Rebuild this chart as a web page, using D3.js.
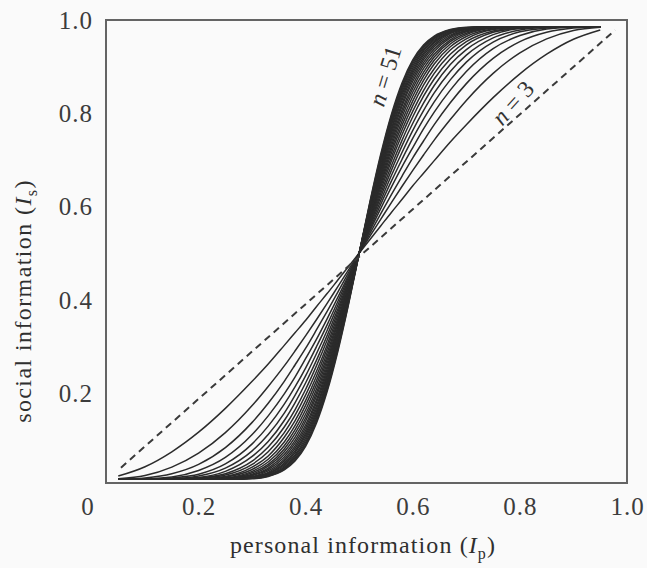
<!DOCTYPE html>
<html><head><meta charset="utf-8">
<script src="https://cdn.jsdelivr.net/npm/d3@7"></script>
<style>
html,body{margin:0;padding:0;background:#fafafa;}
svg{display:block;}
</style></head>
<body>
<svg id="chart" width="647" height="568"></svg>
<script>
// ---- data ----
const groupSizes = [3,5,7,9,11,13,15,17,19,21,23,25,27,29,31,33,35,37,39,41,43,45,47,49,51];
const personalInfo = [0.05,0.10,0.15,0.20,0.25,0.30,0.33,0.36,0.38,0.40,0.42,0.44,0.46,0.48,0.50,
                      0.52,0.54,0.56,0.58,0.60,0.62,0.64,0.67,0.70,0.75,0.80,0.85,0.90,0.95];
const socialInfo = [
 [.022,.042,.074,.116,.167,.225,.262,.302,.329,.356,.385,.413,.442,.471,.5,.529,.558,.587,.615,.644,.671,.698,.738,.775,.833,.884,.926,.958,.978],
 [.016,.023,.041,.071,.115,.173,.214,.258,.290,.323,.357,.392,.428,.464,.5,.536,.572,.608,.643,.677,.710,.742,.786,.827,.885,.929,.959,.977,.984],
 [.015,.018,.027,.047,.083,.137,.178,.225,.260,.296,.335,.375,.416,.458,.5,.542,.584,.625,.665,.704,.740,.775,.822,.863,.917,.953,.973,.982,.985],
 [.015,.016,.020,.034,.062,.111,.151,.198,.234,.274,.315,.359,.405,.452,.5,.548,.595,.641,.685,.726,.766,.802,.849,.889,.938,.966,.980,.984,.985],
 [.015,.015,.018,.026,.048,.091,.129,.176,.213,.254,.299,.346,.396,.448,.5,.552,.604,.654,.701,.746,.787,.824,.871,.909,.952,.974,.982,.985,.985],
 [.015,.015,.016,.022,.039,.076,.111,.157,.195,.237,.284,.334,.388,.443,.5,.557,.612,.666,.716,.763,.805,.843,.889,.924,.961,.978,.984,.985,.985],
 [.015,.015,.016,.019,.032,.064,.096,.141,.179,.222,.270,.323,.380,.439,.5,.561,.620,.677,.730,.778,.821,.859,.904,.936,.968,.981,.984,.985,.985],
 [.015,.015,.015,.018,.027,.054,.084,.127,.164,.208,.258,.313,.373,.436,.5,.564,.627,.687,.742,.792,.836,.873,.916,.946,.973,.982,.985,.985,.985],
 [.015,.015,.015,.017,.024,.047,.074,.115,.152,.196,.246,.303,.366,.432,.5,.568,.634,.697,.754,.804,.848,.885,.926,.953,.976,.983,.985,.985,.985],
 [.015,.015,.015,.016,.021,.041,.065,.105,.140,.184,.236,.295,.359,.429,.5,.571,.641,.705,.764,.816,.860,.895,.935,.959,.979,.984,.985,.985,.985],
 [.015,.015,.015,.016,.020,.036,.058,.095,.130,.174,.226,.286,.353,.425,.5,.575,.647,.714,.774,.826,.870,.905,.942,.964,.980,.984,.985,.985,.985],
 [.015,.015,.015,.015,.018,.032,.052,.087,.121,.164,.217,.278,.348,.422,.5,.578,.652,.722,.783,.836,.879,.913,.948,.968,.982,.985,.985,.985,.985],
 [.015,.015,.015,.015,.017,.029,.047,.080,.113,.155,.208,.271,.342,.419,.5,.581,.658,.729,.792,.845,.887,.920,.953,.971,.983,.985,.985,.985,.985],
 [.015,.015,.015,.015,.017,.026,.043,.074,.105,.147,.200,.264,.337,.417,.5,.583,.663,.736,.800,.853,.895,.926,.957,.974,.983,.985,.985,.985,.985],
 [.015,.015,.015,.015,.016,.024,.039,.068,.098,.140,.193,.257,.332,.414,.5,.586,.668,.743,.807,.860,.902,.932,.961,.976,.984,.985,.985,.985,.985],
 [.015,.015,.015,.015,.016,.023,.036,.063,.092,.132,.185,.251,.327,.411,.5,.589,.673,.749,.815,.868,.908,.937,.964,.977,.984,.985,.985,.985,.985],
 [.015,.015,.015,.015,.016,.021,.033,.058,.086,.126,.179,.244,.322,.409,.5,.591,.678,.756,.821,.874,.914,.942,.967,.979,.984,.985,.985,.985,.985],
 [.015,.015,.015,.015,.015,.020,.030,.054,.081,.120,.172,.238,.317,.406,.5,.594,.683,.762,.828,.880,.919,.946,.970,.980,.985,.985,.985,.985,.985],
 [.015,.015,.015,.015,.015,.019,.028,.050,.076,.114,.166,.233,.313,.404,.5,.596,.687,.767,.834,.886,.924,.950,.972,.981,.985,.985,.985,.985,.985],
 [.015,.015,.015,.015,.015,.018,.027,.047,.072,.109,.160,.227,.309,.401,.5,.599,.691,.773,.840,.891,.928,.953,.973,.982,.985,.985,.985,.985,.985],
 [.015,.015,.015,.015,.015,.018,.025,.044,.067,.104,.155,.222,.305,.399,.5,.601,.695,.778,.845,.896,.933,.956,.975,.982,.985,.985,.985,.985,.985],
 [.015,.015,.015,.015,.015,.017,.024,.041,.064,.099,.150,.217,.301,.397,.5,.603,.699,.783,.850,.901,.936,.959,.976,.983,.985,.985,.985,.985,.985],
 [.015,.015,.015,.015,.015,.017,.023,.039,.060,.094,.145,.212,.297,.395,.5,.605,.703,.788,.855,.906,.940,.961,.977,.983,.985,.985,.985,.985,.985],
 [.015,.015,.015,.015,.015,.017,.022,.037,.057,.090,.140,.207,.293,.392,.5,.608,.707,.793,.860,.910,.943,.963,.978,.983,.985,.985,.985,.985,.985],
 [.015,.015,.015,.015,.015,.016,.021,.035,.054,.086,.135,.203,.289,.390,.5,.610,.711,.797,.865,.914,.946,.965,.979,.984,.985,.985,.985,.985,.985]
];
// dashed reference line (n = 1)
const diagonalX = [0.055, 0.978];
const diagonalY = [0.040, 0.978];
const xTicks = [0, 0.2, 0.4, 0.6, 0.8, 1.0];
const xTickLabels = ["0","0.2","0.4","0.6","0.8","1.0"];
const yTicks = [0.2, 0.4, 0.6, 0.8, 1.0];
const yTickLabels = ["0.2","0.4","0.6","0.8","1.0"];

// ---- drawing ----
const svg = d3.select("#chart");
const x = d3.scaleLinear().domain([0,1]).range([91.5,627]);
const y = d3.scaleLinear().domain([0,1]).range([486.3,19.7]);
const font = "'Liberation Serif','Times New Roman',serif";
const ink = "#2b2b2b";

// frame
svg.append("rect")
  .attr("x",106).attr("y",20).attr("width",521).attr("height",463)
  .attr("fill","none").attr("stroke","#646464").attr("stroke-width",2);

const line = d3.line().x(d=>x(d[0])).y(d=>y(d[1])).curve(d3.curveMonotoneX);

// curves
svg.append("g").selectAll("path")
  .data(socialInfo.map((vals,i)=>({n:groupSizes[i], pts: personalInfo.map((p,j)=>[p, vals[j]])})))
  .join("path")
  .attr("d", d=>line(d.pts))
  .attr("fill","none")
  .attr("stroke", ink)
  .attr("stroke-width",1.5);

// dashed diagonal
svg.append("path")
  .attr("d", d3.line()(diagonalX.map((v,i)=>[x(v), y(diagonalY[i])])))
  .attr("fill","none").attr("stroke","#3a3a3a").attr("stroke-width",2)
  .attr("stroke-dasharray","7,5");

// x axis labels
const xa = svg.append("g").attr("transform","translate(0,515)")
  .call(d3.axisBottom(x).tickValues(xTicks).tickSize(0).tickPadding(0)
    .tickFormat((d,i)=>xTickLabels[i]));
xa.select(".domain").remove();
xa.selectAll("text").attr("font-family",font).attr("font-size",25).attr("fill","#3c3c3c")
  .attr("letter-spacing",1).attr("dy",0).attr("dx",(d,i)=>i===0?-4:0);

// y axis labels
const ya = svg.append("g").attr("transform","translate(93,0)")
  .call(d3.axisLeft(y).tickValues(yTicks).tickSize(0).tickPadding(0)
    .tickFormat((d,i)=>yTickLabels[i]));
ya.select(".domain").remove();
ya.selectAll("text").attr("font-family",font).attr("font-size",25).attr("fill","#3c3c3c")
  .attr("letter-spacing",1).attr("dy","0.34em");

// axis titles
const xt = svg.append("text").attr("x",363).attr("y",553).attr("text-anchor","middle")
  .attr("font-family",font).attr("font-size",24).attr("letter-spacing",1.1).attr("fill","#2f2f2f");
xt.append("tspan").text("personal information (");
xt.append("tspan").attr("font-style","italic").text("I");
xt.append("tspan").attr("font-size",16).attr("dy",6).text("p");
xt.append("tspan").attr("dy",-6).text(")");

const yt = svg.append("text").attr("transform","translate(31,301) rotate(-90)")
  .attr("text-anchor","middle")
  .attr("font-family",font).attr("font-size",24).attr("letter-spacing",1.4).attr("fill","#2f2f2f");
yt.append("tspan").text("social information (");
yt.append("tspan").attr("font-style","italic").text("I");
yt.append("tspan").attr("font-size",16).attr("dy",6).text("s");
yt.append("tspan").attr("dy",-6).text(")");

// curve labels
function nLabel(cx, cy, angle, num){
  const t = svg.append("text").attr("transform",`translate(${cx},${cy}) rotate(${angle})`)
    .attr("text-anchor","middle").attr("dominant-baseline","central")
    .attr("font-family",font).attr("font-size",24).attr("fill","#333");
  t.append("tspan").attr("font-style","italic").text("n");
  t.append("tspan").text(" = " + num);
}
nLabel(385, 76, -73, groupSizes[groupSizes.length-1]);
nLabel(513, 103, -48, groupSizes[0]);
</script>
</body></html>
